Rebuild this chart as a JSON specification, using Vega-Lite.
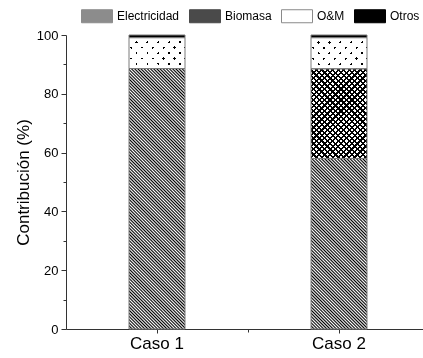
{
"$schema":"https://vega.github.io/schema/vega-lite/v6.json",
"width":357,"height":294,
"autosize":{"type":"none"},
"padding":{"left":66,"top":35,"right":0,"bottom":29},
"background":"white",
"config":{"view":{"stroke":null},"font":"Liberation Sans","axis":{"grid":false}},
"data":{"values":[
{"caso":"Caso 1","fuente":"Electricidad","valor":88.6},
{"caso":"Caso 1","fuente":"O&M","valor":10.5},
{"caso":"Caso 1","fuente":"Otros","valor":0.9},
{"caso":"Caso 2","fuente":"Electricidad","valor":58.0},
{"caso":"Caso 2","fuente":"Biomasa","valor":30.5},
{"caso":"Caso 2","fuente":"O&M","valor":10.6},
{"caso":"Caso 2","fuente":"Otros","valor":0.9}
]},
"transform":[{"stack":"valor","groupby":["caso"],"sort":[{"field":"valor","order":"descending"}],"as":["v0","v1"]}],
"encoding":{
"x":{"field":"caso","type":"nominal","scale":{"range":[0,364],"paddingInner":0,"paddingOuter":0},"axis":null},
"y":{"field":"v1","type":"quantitative","scale":{"domain":[0,100]},"axis":null},
"y2":{"field":"v0"}
},
"layer":[
{"transform":[{"filter":"datum.caso === 'Caso 1' && datum.fuente === 'Electricidad'"}],
"mark":{"type":"bar","width":56,"fill":{"gradient":"linear","x1":0,"y1":1,"x2":0.2497,"y2":-0.1613,"stops":[
{"offset":0,"color":"#000"},{"offset":0.005,"color":"#fff"},{"offset":0.01,"color":"#000"},{"offset":0.015,"color":"#fff"},{"offset":0.02,"color":"#000"},{"offset":0.025,"color":"#fff"},{"offset":0.03,"color":"#000"},{"offset":0.035,"color":"#fff"},{"offset":0.04,"color":"#000"},{"offset":0.045,"color":"#fff"},
{"offset":0.05,"color":"#000"},{"offset":0.055,"color":"#fff"},{"offset":0.06,"color":"#000"},{"offset":0.065,"color":"#fff"},{"offset":0.07,"color":"#000"},{"offset":0.075,"color":"#fff"},{"offset":0.08,"color":"#000"},{"offset":0.085,"color":"#fff"},{"offset":0.09,"color":"#000"},{"offset":0.095,"color":"#fff"},
{"offset":0.1,"color":"#000"},{"offset":0.105,"color":"#fff"},{"offset":0.11,"color":"#000"},{"offset":0.115,"color":"#fff"},{"offset":0.12,"color":"#000"},{"offset":0.125,"color":"#fff"},{"offset":0.13,"color":"#000"},{"offset":0.135,"color":"#fff"},{"offset":0.14,"color":"#000"},{"offset":0.145,"color":"#fff"},
{"offset":0.15,"color":"#000"},{"offset":0.155,"color":"#fff"},{"offset":0.16,"color":"#000"},{"offset":0.165,"color":"#fff"},{"offset":0.17,"color":"#000"},{"offset":0.175,"color":"#fff"},{"offset":0.18,"color":"#000"},{"offset":0.185,"color":"#fff"},{"offset":0.19,"color":"#000"},{"offset":0.195,"color":"#fff"},
{"offset":0.2,"color":"#000"},{"offset":0.205,"color":"#fff"},{"offset":0.21,"color":"#000"},{"offset":0.215,"color":"#fff"},{"offset":0.22,"color":"#000"},{"offset":0.225,"color":"#fff"},{"offset":0.23,"color":"#000"},{"offset":0.235,"color":"#fff"},{"offset":0.24,"color":"#000"},{"offset":0.245,"color":"#fff"},
{"offset":0.25,"color":"#000"},{"offset":0.255,"color":"#fff"},{"offset":0.26,"color":"#000"},{"offset":0.265,"color":"#fff"},{"offset":0.27,"color":"#000"},{"offset":0.275,"color":"#fff"},{"offset":0.28,"color":"#000"},{"offset":0.285,"color":"#fff"},{"offset":0.29,"color":"#000"},{"offset":0.295,"color":"#fff"},
{"offset":0.3,"color":"#000"},{"offset":0.305,"color":"#fff"},{"offset":0.31,"color":"#000"},{"offset":0.315,"color":"#fff"},{"offset":0.32,"color":"#000"},{"offset":0.325,"color":"#fff"},{"offset":0.33,"color":"#000"},{"offset":0.335,"color":"#fff"},{"offset":0.34,"color":"#000"},{"offset":0.345,"color":"#fff"},
{"offset":0.35,"color":"#000"},{"offset":0.355,"color":"#fff"},{"offset":0.36,"color":"#000"},{"offset":0.365,"color":"#fff"},{"offset":0.37,"color":"#000"},{"offset":0.375,"color":"#fff"},{"offset":0.38,"color":"#000"},{"offset":0.385,"color":"#fff"},{"offset":0.39,"color":"#000"},{"offset":0.395,"color":"#fff"},
{"offset":0.4,"color":"#000"},{"offset":0.405,"color":"#fff"},{"offset":0.41,"color":"#000"},{"offset":0.415,"color":"#fff"},{"offset":0.42,"color":"#000"},{"offset":0.425,"color":"#fff"},{"offset":0.43,"color":"#000"},{"offset":0.435,"color":"#fff"},{"offset":0.44,"color":"#000"},{"offset":0.445,"color":"#fff"},
{"offset":0.45,"color":"#000"},{"offset":0.455,"color":"#fff"},{"offset":0.46,"color":"#000"},{"offset":0.465,"color":"#fff"},{"offset":0.47,"color":"#000"},{"offset":0.475,"color":"#fff"},{"offset":0.48,"color":"#000"},{"offset":0.485,"color":"#fff"},{"offset":0.49,"color":"#000"},{"offset":0.495,"color":"#fff"},
{"offset":0.5,"color":"#000"},{"offset":0.505,"color":"#fff"},{"offset":0.51,"color":"#000"},{"offset":0.515,"color":"#fff"},{"offset":0.52,"color":"#000"},{"offset":0.525,"color":"#fff"},{"offset":0.53,"color":"#000"},{"offset":0.535,"color":"#fff"},{"offset":0.54,"color":"#000"},{"offset":0.545,"color":"#fff"},
{"offset":0.55,"color":"#000"},{"offset":0.555,"color":"#fff"},{"offset":0.56,"color":"#000"},{"offset":0.565,"color":"#fff"},{"offset":0.57,"color":"#000"},{"offset":0.575,"color":"#fff"},{"offset":0.58,"color":"#000"},{"offset":0.585,"color":"#fff"},{"offset":0.59,"color":"#000"},{"offset":0.595,"color":"#fff"},
{"offset":0.6,"color":"#000"},{"offset":0.605,"color":"#fff"},{"offset":0.61,"color":"#000"},{"offset":0.615,"color":"#fff"},{"offset":0.62,"color":"#000"},{"offset":0.625,"color":"#fff"},{"offset":0.63,"color":"#000"},{"offset":0.635,"color":"#fff"},{"offset":0.64,"color":"#000"},{"offset":0.645,"color":"#fff"},
{"offset":0.65,"color":"#000"},{"offset":0.655,"color":"#fff"},{"offset":0.66,"color":"#000"},{"offset":0.665,"color":"#fff"},{"offset":0.67,"color":"#000"},{"offset":0.675,"color":"#fff"},{"offset":0.68,"color":"#000"},{"offset":0.685,"color":"#fff"},{"offset":0.69,"color":"#000"},{"offset":0.695,"color":"#fff"},
{"offset":0.7,"color":"#000"},{"offset":0.705,"color":"#fff"},{"offset":0.71,"color":"#000"},{"offset":0.715,"color":"#fff"},{"offset":0.72,"color":"#000"},{"offset":0.725,"color":"#fff"},{"offset":0.73,"color":"#000"},{"offset":0.735,"color":"#fff"},{"offset":0.74,"color":"#000"},{"offset":0.745,"color":"#fff"},
{"offset":0.75,"color":"#000"},{"offset":0.755,"color":"#fff"},{"offset":0.76,"color":"#000"},{"offset":0.765,"color":"#fff"},{"offset":0.77,"color":"#000"},{"offset":0.775,"color":"#fff"},{"offset":0.78,"color":"#000"},{"offset":0.785,"color":"#fff"},{"offset":0.79,"color":"#000"},{"offset":0.795,"color":"#fff"},
{"offset":0.8,"color":"#000"},{"offset":0.805,"color":"#fff"},{"offset":0.81,"color":"#000"},{"offset":0.815,"color":"#fff"},{"offset":0.82,"color":"#000"},{"offset":0.825,"color":"#fff"},{"offset":0.83,"color":"#000"},{"offset":0.835,"color":"#fff"},{"offset":0.84,"color":"#000"},{"offset":0.845,"color":"#fff"},
{"offset":0.85,"color":"#000"},{"offset":0.855,"color":"#fff"},{"offset":0.86,"color":"#000"},{"offset":0.865,"color":"#fff"},{"offset":0.87,"color":"#000"},{"offset":0.875,"color":"#fff"},{"offset":0.88,"color":"#000"},{"offset":0.885,"color":"#fff"},{"offset":0.89,"color":"#000"},{"offset":0.895,"color":"#fff"},
{"offset":0.9,"color":"#000"},{"offset":0.905,"color":"#fff"},{"offset":0.91,"color":"#000"},{"offset":0.915,"color":"#fff"},{"offset":0.92,"color":"#000"},{"offset":0.925,"color":"#fff"},{"offset":0.93,"color":"#000"},{"offset":0.935,"color":"#fff"},{"offset":0.94,"color":"#000"},{"offset":0.945,"color":"#fff"},
{"offset":0.95,"color":"#000"},{"offset":0.955,"color":"#fff"},{"offset":0.96,"color":"#000"},{"offset":0.965,"color":"#fff"},{"offset":0.97,"color":"#000"},{"offset":0.975,"color":"#fff"},{"offset":0.98,"color":"#000"},{"offset":0.985,"color":"#fff"},{"offset":0.99,"color":"#000"},{"offset":0.995,"color":"#fff"},
{"offset":1,"color":"#000"}]}}},
{"transform":[{"filter":"datum.caso === 'Caso 2' && datum.fuente === 'Electricidad'"}],
"mark":{"type":"bar","width":56,"fill":{"gradient":"linear","x1":0,"y1":1,"x2":0.3938,"y2":-0.1991,"stops":[
{"offset":0,"color":"#000"},{"offset":0.007,"color":"#fff"},{"offset":0.014,"color":"#000"},{"offset":0.021,"color":"#fff"},{"offset":0.028,"color":"#000"},{"offset":0.035,"color":"#fff"},{"offset":0.042,"color":"#000"},{"offset":0.049,"color":"#fff"},{"offset":0.056,"color":"#000"},{"offset":0.063,"color":"#fff"},
{"offset":0.07,"color":"#000"},{"offset":0.077,"color":"#fff"},{"offset":0.084,"color":"#000"},{"offset":0.091,"color":"#fff"},{"offset":0.098,"color":"#000"},{"offset":0.105,"color":"#fff"},{"offset":0.112,"color":"#000"},{"offset":0.119,"color":"#fff"},{"offset":0.126,"color":"#000"},{"offset":0.133,"color":"#fff"},
{"offset":0.14,"color":"#000"},{"offset":0.147,"color":"#fff"},{"offset":0.154,"color":"#000"},{"offset":0.161,"color":"#fff"},{"offset":0.168,"color":"#000"},{"offset":0.175,"color":"#fff"},{"offset":0.182,"color":"#000"},{"offset":0.189,"color":"#fff"},{"offset":0.196,"color":"#000"},{"offset":0.203,"color":"#fff"},
{"offset":0.21,"color":"#000"},{"offset":0.217,"color":"#fff"},{"offset":0.224,"color":"#000"},{"offset":0.231,"color":"#fff"},{"offset":0.238,"color":"#000"},{"offset":0.245,"color":"#fff"},{"offset":0.252,"color":"#000"},{"offset":0.259,"color":"#fff"},{"offset":0.266,"color":"#000"},{"offset":0.273,"color":"#fff"},
{"offset":0.28,"color":"#000"},{"offset":0.287,"color":"#fff"},{"offset":0.294,"color":"#000"},{"offset":0.301,"color":"#fff"},{"offset":0.308,"color":"#000"},{"offset":0.315,"color":"#fff"},{"offset":0.322,"color":"#000"},{"offset":0.329,"color":"#fff"},{"offset":0.336,"color":"#000"},{"offset":0.343,"color":"#fff"},
{"offset":0.35,"color":"#000"},{"offset":0.357,"color":"#fff"},{"offset":0.364,"color":"#000"},{"offset":0.371,"color":"#fff"},{"offset":0.378,"color":"#000"},{"offset":0.385,"color":"#fff"},{"offset":0.392,"color":"#000"},{"offset":0.399,"color":"#fff"},{"offset":0.406,"color":"#000"},{"offset":0.413,"color":"#fff"},
{"offset":0.42,"color":"#000"},{"offset":0.427,"color":"#fff"},{"offset":0.434,"color":"#000"},{"offset":0.441,"color":"#fff"},{"offset":0.448,"color":"#000"},{"offset":0.455,"color":"#fff"},{"offset":0.462,"color":"#000"},{"offset":0.469,"color":"#fff"},{"offset":0.476,"color":"#000"},{"offset":0.483,"color":"#fff"},
{"offset":0.49,"color":"#000"},{"offset":0.497,"color":"#fff"},{"offset":0.504,"color":"#000"},{"offset":0.511,"color":"#fff"},{"offset":0.518,"color":"#000"},{"offset":0.525,"color":"#fff"},{"offset":0.532,"color":"#000"},{"offset":0.539,"color":"#fff"},{"offset":0.546,"color":"#000"},{"offset":0.553,"color":"#fff"},
{"offset":0.56,"color":"#000"},{"offset":0.567,"color":"#fff"},{"offset":0.574,"color":"#000"},{"offset":0.581,"color":"#fff"},{"offset":0.588,"color":"#000"},{"offset":0.595,"color":"#fff"},{"offset":0.602,"color":"#000"},{"offset":0.609,"color":"#fff"},{"offset":0.616,"color":"#000"},{"offset":0.623,"color":"#fff"},
{"offset":0.63,"color":"#000"},{"offset":0.637,"color":"#fff"},{"offset":0.644,"color":"#000"},{"offset":0.651,"color":"#fff"},{"offset":0.658,"color":"#000"},{"offset":0.665,"color":"#fff"},{"offset":0.672,"color":"#000"},{"offset":0.679,"color":"#fff"},{"offset":0.686,"color":"#000"},{"offset":0.693,"color":"#fff"},
{"offset":0.7,"color":"#000"},{"offset":0.707,"color":"#fff"},{"offset":0.714,"color":"#000"},{"offset":0.721,"color":"#fff"},{"offset":0.728,"color":"#000"},{"offset":0.735,"color":"#fff"},{"offset":0.742,"color":"#000"},{"offset":0.749,"color":"#fff"},{"offset":0.756,"color":"#000"},{"offset":0.763,"color":"#fff"},
{"offset":0.77,"color":"#000"},{"offset":0.777,"color":"#fff"},{"offset":0.784,"color":"#000"},{"offset":0.791,"color":"#fff"},{"offset":0.798,"color":"#000"},{"offset":0.805,"color":"#fff"},{"offset":0.812,"color":"#000"},{"offset":0.819,"color":"#fff"},{"offset":0.826,"color":"#000"},{"offset":0.833,"color":"#fff"},
{"offset":0.84,"color":"#000"},{"offset":0.847,"color":"#fff"},{"offset":0.854,"color":"#000"},{"offset":0.861,"color":"#fff"},{"offset":0.868,"color":"#000"},{"offset":0.875,"color":"#fff"},{"offset":0.882,"color":"#000"},{"offset":0.889,"color":"#fff"},{"offset":0.896,"color":"#000"},{"offset":0.903,"color":"#fff"},
{"offset":0.91,"color":"#000"},{"offset":0.917,"color":"#fff"},{"offset":0.924,"color":"#000"},{"offset":0.931,"color":"#fff"},{"offset":0.938,"color":"#000"},{"offset":0.945,"color":"#fff"},{"offset":0.952,"color":"#000"},{"offset":0.959,"color":"#fff"},{"offset":0.966,"color":"#000"},{"offset":0.973,"color":"#fff"},
{"offset":0.98,"color":"#000"},{"offset":0.987,"color":"#fff"},{"offset":0.994,"color":"#000"},{"offset":1,"color":"#fff"}]}}},
{"transform":[{"filter":"datum.fuente === 'Biomasa'"}],
"mark":{"type":"bar","width":56,"fill":{"gradient":"linear","x1":0,"y1":1,"x2":0.7297,"y2":-0.1688,"stops":[
{"offset":0,"color":"#000"},{"offset":0.015,"color":"#000"},{"offset":0.015,"color":"#fff"},{"offset":0.0375,"color":"#fff"},{"offset":0.0375,"color":"#000"},{"offset":0.0525,"color":"#000"},{"offset":0.0525,"color":"#fff"},{"offset":0.075,"color":"#fff"},
{"offset":0.075,"color":"#000"},{"offset":0.09,"color":"#000"},{"offset":0.09,"color":"#fff"},{"offset":0.1125,"color":"#fff"},{"offset":0.1125,"color":"#000"},{"offset":0.1275,"color":"#000"},{"offset":0.1275,"color":"#fff"},{"offset":0.15,"color":"#fff"},
{"offset":0.15,"color":"#000"},{"offset":0.165,"color":"#000"},{"offset":0.165,"color":"#fff"},{"offset":0.1875,"color":"#fff"},{"offset":0.1875,"color":"#000"},{"offset":0.2025,"color":"#000"},{"offset":0.2025,"color":"#fff"},{"offset":0.225,"color":"#fff"},
{"offset":0.225,"color":"#000"},{"offset":0.24,"color":"#000"},{"offset":0.24,"color":"#fff"},{"offset":0.2625,"color":"#fff"},{"offset":0.2625,"color":"#000"},{"offset":0.2775,"color":"#000"},{"offset":0.2775,"color":"#fff"},{"offset":0.3,"color":"#fff"},
{"offset":0.3,"color":"#000"},{"offset":0.315,"color":"#000"},{"offset":0.315,"color":"#fff"},{"offset":0.3375,"color":"#fff"},{"offset":0.3375,"color":"#000"},{"offset":0.3525,"color":"#000"},{"offset":0.3525,"color":"#fff"},{"offset":0.375,"color":"#fff"},
{"offset":0.375,"color":"#000"},{"offset":0.39,"color":"#000"},{"offset":0.39,"color":"#fff"},{"offset":0.4125,"color":"#fff"},{"offset":0.4125,"color":"#000"},{"offset":0.4275,"color":"#000"},{"offset":0.4275,"color":"#fff"},{"offset":0.45,"color":"#fff"},
{"offset":0.45,"color":"#000"},{"offset":0.465,"color":"#000"},{"offset":0.465,"color":"#fff"},{"offset":0.4875,"color":"#fff"},{"offset":0.4875,"color":"#000"},{"offset":0.5025,"color":"#000"},{"offset":0.5025,"color":"#fff"},{"offset":0.525,"color":"#fff"},
{"offset":0.525,"color":"#000"},{"offset":0.54,"color":"#000"},{"offset":0.54,"color":"#fff"},{"offset":0.5625,"color":"#fff"},{"offset":0.5625,"color":"#000"},{"offset":0.5775,"color":"#000"},{"offset":0.5775,"color":"#fff"},{"offset":0.6,"color":"#fff"},
{"offset":0.6,"color":"#000"},{"offset":0.615,"color":"#000"},{"offset":0.615,"color":"#fff"},{"offset":0.6375,"color":"#fff"},{"offset":0.6375,"color":"#000"},{"offset":0.6525,"color":"#000"},{"offset":0.6525,"color":"#fff"},{"offset":0.675,"color":"#fff"},
{"offset":0.675,"color":"#000"},{"offset":0.69,"color":"#000"},{"offset":0.69,"color":"#fff"},{"offset":0.7125,"color":"#fff"},{"offset":0.7125,"color":"#000"},{"offset":0.7275,"color":"#000"},{"offset":0.7275,"color":"#fff"},{"offset":0.75,"color":"#fff"},
{"offset":0.75,"color":"#000"},{"offset":0.765,"color":"#000"},{"offset":0.765,"color":"#fff"},{"offset":0.7875,"color":"#fff"},{"offset":0.7875,"color":"#000"},{"offset":0.8025,"color":"#000"},{"offset":0.8025,"color":"#fff"},{"offset":0.825,"color":"#fff"},
{"offset":0.825,"color":"#000"},{"offset":0.84,"color":"#000"},{"offset":0.84,"color":"#fff"},{"offset":0.8625,"color":"#fff"},{"offset":0.8625,"color":"#000"},{"offset":0.8775,"color":"#000"},{"offset":0.8775,"color":"#fff"},{"offset":0.9,"color":"#fff"},
{"offset":0.9,"color":"#000"},{"offset":0.915,"color":"#000"},{"offset":0.915,"color":"#fff"},{"offset":0.9375,"color":"#fff"},{"offset":0.9375,"color":"#000"},{"offset":0.9525,"color":"#000"},{"offset":0.9525,"color":"#fff"},{"offset":0.975,"color":"#fff"},
{"offset":0.975,"color":"#000"},{"offset":0.99,"color":"#000"},{"offset":0.99,"color":"#fff"},{"offset":1,"color":"#fff"}]}}},
{"transform":[{"filter":"datum.fuente === 'Biomasa'"}],
"mark":{"type":"bar","width":56,"blend":"multiply","fill":{"gradient":"linear","x1":0,"y1":0,"x2":0.7297,"y2":1.1688,"stops":[
{"offset":0,"color":"#000"},{"offset":0.015,"color":"#000"},{"offset":0.015,"color":"#fff"},{"offset":0.0375,"color":"#fff"},{"offset":0.0375,"color":"#000"},{"offset":0.0525,"color":"#000"},{"offset":0.0525,"color":"#fff"},{"offset":0.075,"color":"#fff"},
{"offset":0.075,"color":"#000"},{"offset":0.09,"color":"#000"},{"offset":0.09,"color":"#fff"},{"offset":0.1125,"color":"#fff"},{"offset":0.1125,"color":"#000"},{"offset":0.1275,"color":"#000"},{"offset":0.1275,"color":"#fff"},{"offset":0.15,"color":"#fff"},
{"offset":0.15,"color":"#000"},{"offset":0.165,"color":"#000"},{"offset":0.165,"color":"#fff"},{"offset":0.1875,"color":"#fff"},{"offset":0.1875,"color":"#000"},{"offset":0.2025,"color":"#000"},{"offset":0.2025,"color":"#fff"},{"offset":0.225,"color":"#fff"},
{"offset":0.225,"color":"#000"},{"offset":0.24,"color":"#000"},{"offset":0.24,"color":"#fff"},{"offset":0.2625,"color":"#fff"},{"offset":0.2625,"color":"#000"},{"offset":0.2775,"color":"#000"},{"offset":0.2775,"color":"#fff"},{"offset":0.3,"color":"#fff"},
{"offset":0.3,"color":"#000"},{"offset":0.315,"color":"#000"},{"offset":0.315,"color":"#fff"},{"offset":0.3375,"color":"#fff"},{"offset":0.3375,"color":"#000"},{"offset":0.3525,"color":"#000"},{"offset":0.3525,"color":"#fff"},{"offset":0.375,"color":"#fff"},
{"offset":0.375,"color":"#000"},{"offset":0.39,"color":"#000"},{"offset":0.39,"color":"#fff"},{"offset":0.4125,"color":"#fff"},{"offset":0.4125,"color":"#000"},{"offset":0.4275,"color":"#000"},{"offset":0.4275,"color":"#fff"},{"offset":0.45,"color":"#fff"},
{"offset":0.45,"color":"#000"},{"offset":0.465,"color":"#000"},{"offset":0.465,"color":"#fff"},{"offset":0.4875,"color":"#fff"},{"offset":0.4875,"color":"#000"},{"offset":0.5025,"color":"#000"},{"offset":0.5025,"color":"#fff"},{"offset":0.525,"color":"#fff"},
{"offset":0.525,"color":"#000"},{"offset":0.54,"color":"#000"},{"offset":0.54,"color":"#fff"},{"offset":0.5625,"color":"#fff"},{"offset":0.5625,"color":"#000"},{"offset":0.5775,"color":"#000"},{"offset":0.5775,"color":"#fff"},{"offset":0.6,"color":"#fff"},
{"offset":0.6,"color":"#000"},{"offset":0.615,"color":"#000"},{"offset":0.615,"color":"#fff"},{"offset":0.6375,"color":"#fff"},{"offset":0.6375,"color":"#000"},{"offset":0.6525,"color":"#000"},{"offset":0.6525,"color":"#fff"},{"offset":0.675,"color":"#fff"},
{"offset":0.675,"color":"#000"},{"offset":0.69,"color":"#000"},{"offset":0.69,"color":"#fff"},{"offset":0.7125,"color":"#fff"},{"offset":0.7125,"color":"#000"},{"offset":0.7275,"color":"#000"},{"offset":0.7275,"color":"#fff"},{"offset":0.75,"color":"#fff"},
{"offset":0.75,"color":"#000"},{"offset":0.765,"color":"#000"},{"offset":0.765,"color":"#fff"},{"offset":0.7875,"color":"#fff"},{"offset":0.7875,"color":"#000"},{"offset":0.8025,"color":"#000"},{"offset":0.8025,"color":"#fff"},{"offset":0.825,"color":"#fff"},
{"offset":0.825,"color":"#000"},{"offset":0.84,"color":"#000"},{"offset":0.84,"color":"#fff"},{"offset":0.8625,"color":"#fff"},{"offset":0.8625,"color":"#000"},{"offset":0.8775,"color":"#000"},{"offset":0.8775,"color":"#fff"},{"offset":0.9,"color":"#fff"},
{"offset":0.9,"color":"#000"},{"offset":0.915,"color":"#000"},{"offset":0.915,"color":"#fff"},{"offset":0.9375,"color":"#fff"},{"offset":0.9375,"color":"#000"},{"offset":0.9525,"color":"#000"},{"offset":0.9525,"color":"#fff"},{"offset":0.975,"color":"#fff"},
{"offset":0.975,"color":"#000"},{"offset":0.99,"color":"#000"},{"offset":0.99,"color":"#fff"},{"offset":1,"color":"#fff"}]}}},
{"transform":[{"filter":"datum.fuente === 'O&M'"}],
"mark":{"type":"bar","width":56,"fill":{"gradient":"linear","x1":0,"y1":1,"x2":1.189,"y2":0.342,"stops":[
{"offset":0,"color":"#000"},{"offset":0.03,"color":"#000"},{"offset":0.03,"color":"#fff"},{"offset":0.125,"color":"#fff"},{"offset":0.125,"color":"#000"},{"offset":0.155,"color":"#000"},{"offset":0.155,"color":"#fff"},{"offset":0.25,"color":"#fff"},
{"offset":0.25,"color":"#000"},{"offset":0.28,"color":"#000"},{"offset":0.28,"color":"#fff"},{"offset":0.375,"color":"#fff"},{"offset":0.375,"color":"#000"},{"offset":0.405,"color":"#000"},{"offset":0.405,"color":"#fff"},{"offset":0.5,"color":"#fff"},
{"offset":0.5,"color":"#000"},{"offset":0.53,"color":"#000"},{"offset":0.53,"color":"#fff"},{"offset":0.625,"color":"#fff"},{"offset":0.625,"color":"#000"},{"offset":0.655,"color":"#000"},{"offset":0.655,"color":"#fff"},{"offset":0.75,"color":"#fff"},
{"offset":0.75,"color":"#000"},{"offset":0.78,"color":"#000"},{"offset":0.78,"color":"#fff"},{"offset":0.875,"color":"#fff"},{"offset":0.875,"color":"#000"},{"offset":0.905,"color":"#000"},{"offset":0.905,"color":"#fff"},{"offset":1,"color":"#fff"}]}}},
{"transform":[{"filter":"datum.fuente === 'O&M'"}],
"mark":{"type":"bar","width":56,"blend":"screen","fill":{"gradient":"linear","x1":0,"y1":0,"x2":1.189,"y2":0.658,"stops":[
{"offset":0,"color":"#000"},{"offset":0.03,"color":"#000"},{"offset":0.03,"color":"#fff"},{"offset":0.125,"color":"#fff"},{"offset":0.125,"color":"#000"},{"offset":0.155,"color":"#000"},{"offset":0.155,"color":"#fff"},{"offset":0.25,"color":"#fff"},
{"offset":0.25,"color":"#000"},{"offset":0.28,"color":"#000"},{"offset":0.28,"color":"#fff"},{"offset":0.375,"color":"#fff"},{"offset":0.375,"color":"#000"},{"offset":0.405,"color":"#000"},{"offset":0.405,"color":"#fff"},{"offset":0.5,"color":"#fff"},
{"offset":0.5,"color":"#000"},{"offset":0.53,"color":"#000"},{"offset":0.53,"color":"#fff"},{"offset":0.625,"color":"#fff"},{"offset":0.625,"color":"#000"},{"offset":0.655,"color":"#000"},{"offset":0.655,"color":"#fff"},{"offset":0.75,"color":"#fff"},
{"offset":0.75,"color":"#000"},{"offset":0.78,"color":"#000"},{"offset":0.78,"color":"#fff"},{"offset":0.875,"color":"#fff"},{"offset":0.875,"color":"#000"},{"offset":0.905,"color":"#000"},{"offset":0.905,"color":"#fff"},{"offset":1,"color":"#fff"}]}}},
{"transform":[{"filter":"datum.fuente === 'Otros'"}],
"mark":{"type":"bar","width":56,"fill":"#000"}},
{"mark":{"type":"bar","width":56,"fill":"transparent","stroke":"#7a7a7a","strokeWidth":1},
"encoding":{
"x":{"field":"caso","type":"nominal","scale":{"range":[0,364],"paddingInner":0,"paddingOuter":0},"axis":{"title":null,"orient":"bottom","labelFontSize":17,"labelColor":"#000","labelAngle":0,"tickSize":4,"labelPadding":2,"domainColor":"#333","tickColor":"#333"}},
"y":{"field":"v1","type":"quantitative","scale":{"domain":[0,100]},"axis":{"title":"Contribución (%)","values":[0,10,20,30,40,50,60,70,80,90,100],"labelExpr":"datum.value % 20 === 0 ? datum.label : ''","tickSize":{"condition":{"test":"datum.value % 20 === 0","value":5},"value":3},"labelFontSize":13,"labelColor":"#000","labelPadding":3,"titleFontSize":17,"titleFontWeight":"normal","titleColor":"#000","titlePadding":4,"domainColor":"#333","tickColor":"#333","grid":false}},
"y2":{"field":"v0"}}},
{"transform":[{"filter":"false"}],
"mark":{"type":"bar","width":56,"strokeWidth":1},
"encoding":{
"x":{"field":"caso","type":"nominal","scale":{"range":[0,364],"paddingInner":0,"paddingOuter":0},"axis":{"title":null,"orient":"bottom","values":["Caso 2"],"bandPosition":0,"labels":false,"domain":false,"tickSize":3,"tickColor":"#333"}},
"fill":{"field":"fuente","type":"nominal","scale":{"domain":["Electricidad","Biomasa","O&M","Otros"],"range":["#8c8c8c","#4a4a4a","#ffffff","#000000"]},
"legend":{"orient":"none","legendX":15,"legendY":-35,"direction":"horizontal","title":null,"labelFontSize":12,"labelColor":"#000","labelFont":"Liberation Sans","symbolType":"M-1,-0.42H1V0.42H-1Z","symbolSize":961,"columnPadding":7,"labelOffset":4,"symbolOpacity":1,"symbolStrokeWidth":1}},
"stroke":{"field":"fuente","type":"nominal","scale":{"domain":["Electricidad","Biomasa","O&M","Otros"],"range":["#8c8c8c","#4a4a4a","#8a8a8a","#000000"]},
"legend":{"orient":"none","legendX":15,"legendY":-35,"direction":"horizontal","title":null,"labelFontSize":12,"labelColor":"#000","labelFont":"Liberation Sans","symbolType":"M-1,-0.42H1V0.42H-1Z","symbolSize":961,"columnPadding":7,"labelOffset":4,"symbolOpacity":1,"symbolStrokeWidth":1}}}}
],
"resolve":{"axis":{"x":"independent","y":"independent"}}
}
